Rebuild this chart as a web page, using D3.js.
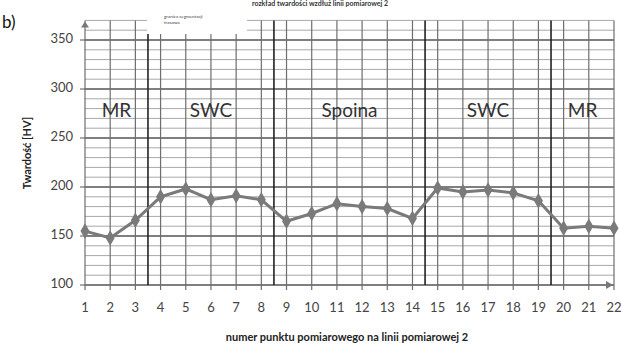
<!DOCTYPE html>
<html>
<head>
<meta charset="utf-8">
<script src="https://cdn.jsdelivr.net/npm/d3@7"></script>
<style>
  body { margin: 0; background: #fff; }
  svg { display: block; font-family: Lato, "Open Sans", sans-serif; }
</style>
</head>
<body>
<svg width="623" height="347"></svg>
<script>
// punkty pomiarowe i twardosc HV
const points = d3.range(1, 23);
const hardness = [155, 148, 166, 190, 198, 187, 191, 187, 165, 173, 183, 180, 178, 168,
                  199, 195, 197, 194, 186, 158, 160, 158];
const yTicks = [100, 150, 200, 250, 300, 350];
const boundaries = [3.5, 8.5, 14.5, 19.5];
const zones = [
  { name: "MR", from: 1, to: 3.5 },
  { name: "SWC", from: 3.5, to: 8.5 },
  { name: "Spoina", from: 8.5, to: 14.5 },
  { name: "SWC", from: 14.5, to: 19.5 },
  { name: "MR", from: 19.5, to: 22 }
];

const svg = d3.select("svg");

const x = d3.scaleLinear().domain([1, 22]).range([85, 614]);
const y = d3.scaleLinear().domain([100, 350]).range([285, 40]);
const yTop = 370;

// pozioma siatka co 10 HV
const grid = svg.append("g");
grid.selectAll("line.minor")
  .data(d3.range(100, yTop + 1, 10))
  .join("line")
  .attr("x1", x(1)).attr("x2", x(22))
  .attr("y1", d => y(d)).attr("y2", d => y(d))
  .attr("stroke", d => d % 50 === 0 ? "#555" : "#a8a8a8")
  .attr("stroke-width", d => d % 50 === 0 ? 1.3 : 1);

// pionowa siatka przy kazdym punkcie
grid.selectAll("line.vert")
  .data(points)
  .join("line")
  .attr("x1", d => x(d)).attr("x2", d => x(d))
  .attr("y1", y(yTop)).attr("y2", y(100) + 5)
  .attr("stroke", "#6e6e6e")
  .attr("stroke-width", 1.2);

// granice stref
grid.selectAll("line.bound")
  .data(boundaries)
  .join("line")
  .attr("x1", d => x(d)).attr("x2", d => x(d))
  .attr("y1", y(yTop)).attr("y2", y(100))
  .attr("stroke", "#222")
  .attr("stroke-width", 1.6);

// kreski osi Y
grid.selectAll("line.ytick")
  .data(yTicks)
  .join("line")
  .attr("x1", x(1) - 5).attr("x2", x(1))
  .attr("y1", d => y(d)).attr("y2", d => y(d))
  .attr("stroke", "#555");

// biale pole opisu u gory
svg.append("rect")
  .attr("x", 147).attr("y", 10).attr("width", 100).attr("height", 24)
  .attr("fill", "#fff");
svg.append("text").attr("x", 164).attr("y", 18)
  .style("font-size", "4.5px").attr("fill", "#444")
  .text("granica segmentacji");
svg.append("text").attr("x", 164).attr("y", 24)
  .style("font-size", "4.5px").attr("fill", "#444")
  .text("trasowa");

// strzalki osi
svg.append("path")
  .attr("d", `M${x(1) - 4},${y(yTop) + 7} L${x(1)},${y(yTop) + 1} L${x(1) + 4},${y(yTop) + 7} Z`)
  .attr("fill", "#777");
svg.append("path")
  .attr("d", `M${x(22) - 8},${y(100) - 4} L${x(22) - 1},${y(100)} L${x(22) - 8},${y(100) + 4} Z`)
  .attr("fill", "#777");

// etykiety osi Y
svg.append("g").selectAll("text")
  .data(yTicks)
  .join("text")
  .attr("x", 73).attr("y", d => y(d))
  .attr("text-anchor", "end")
  .attr("dominant-baseline", "middle")
  .style("font-size", "13px")
  .attr("fill", "#444")
  .text(d => d);

// etykiety osi X
svg.append("g").selectAll("text")
  .data(points)
  .join("text")
  .attr("x", d => x(d)).attr("y", 309)
  .attr("text-anchor", "middle")
  .attr("dominant-baseline", "middle")
  .style("font-size", "13px")
  .attr("fill", "#444")
  .text(d => d);

// nazwy stref
svg.append("g").selectAll("text")
  .data(zones)
  .join("text")
  .attr("x", d => (x(d.from) + x(d.to)) / 2)
  .attr("y", 112)
  .attr("text-anchor", "middle")
  .attr("dominant-baseline", "middle")
  .style("font-size", "19px")
  .attr("fill", "#333")
  .text(d => d.name);

// linia twardosci
const line = d3.line().x((d, i) => x(points[i])).y(d => y(d));
svg.append("path")
  .datum(hardness)
  .attr("d", line)
  .attr("fill", "none")
  .attr("stroke", "#7a7a7a")
  .attr("stroke-width", 3);

svg.append("g").selectAll("path")
  .data(hardness)
  .join("path")
  .attr("d", d3.symbol(d3.symbolDiamond, 70))
  .attr("transform", (d, i) => `translate(${x(points[i])},${y(d)})`)
  .attr("fill", "#7a7a7a");

// tytuly osi
svg.append("text")
  .attr("transform", "translate(31,153) rotate(-90)")
  .attr("text-anchor", "middle")
  .style("font-size", "11px")
  .style("font-weight", "bold")
  .attr("fill", "#222")
  .text("Twardość [HV]");

svg.append("text")
  .attr("x", 347).attr("y", 338)
  .attr("text-anchor", "middle")
  .attr("dominant-baseline", "middle")
  .style("font-size", "11px")
  .style("font-weight", "bold")
  .attr("fill", "#222")
  .text("numer punktu pomiarowego na linii pomiarowej 2");

svg.append("text")
  .attr("x", 2).attr("y", 28)
  .style("font-size", "17px")
  .attr("fill", "#111")
  .text("b)");

// podpis u gory (w oryginale uciety)
svg.append("text")
  .attr("x", 320).attr("y", 6)
  .attr("text-anchor", "middle")
  .style("font-size", "7px")
  .style("font-weight", "bold")
  .attr("fill", "#333")
  .text("rozkład twardości wzdłuż linii pomiarowej 2");
</script>
</body>
</html>
